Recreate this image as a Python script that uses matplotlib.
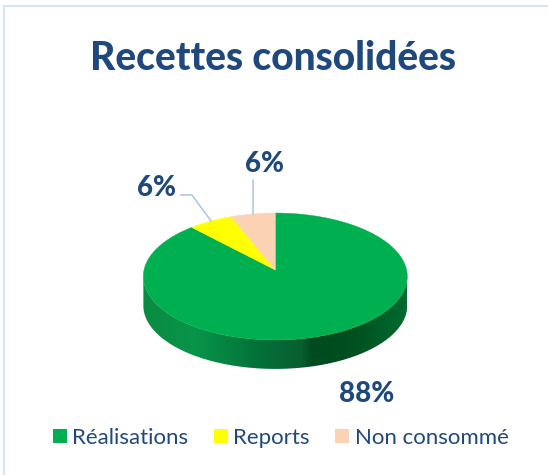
import numpy as np
import matplotlib
matplotlib.use("Agg")
import matplotlib.pyplot as plt
from matplotlib.colors import LinearSegmentedColormap
from matplotlib.patches import Patch, PathPatch
from matplotlib.path import Path

title = "Recettes consolidées"
categories = ["Réalisations", "Reports", "Non consommé"]
values = [88, 6, 6]
colors = ["#00B050", "#FFFF00", "#FBD2B4"]
navy = "#1F497D"
font = "Lato"

W, H = 548, 475
fig = plt.figure(figsize=(W / 100, H / 100), dpi=100, facecolor="white")
ax = fig.add_axes([0, 0, 1, 1])

# projected pie geometry
cx, cy = 275.3, 270.0
a, b, k = 131.3, 62.8, 0.102
depth = 29.0

def project(theta):
    """theta clockwise from 12 o'clock, on the pie's circle, seen in perspective."""
    X, Y = np.sin(theta), np.cos(theta)
    d = 1 + k * Y
    return cx + a * X / d, cy - b * Y / d

# side wall, with its shading
t = np.linspace(np.pi / 2 - 0.12, 3 * np.pi / 2 + 0.12, 300)
xf, yf = project(t)
i0, i1 = np.argmax(xf), np.argmin(xf)
xf, yf = xf[i0:i1 + 1], yf[i0:i1 + 1]
wall = np.vstack([np.c_[xf, yf], np.c_[xf, yf + depth][::-1]])
wall_patch = PathPatch(Path(np.vstack([wall, wall[0]])), fc="none", ec="none")
ax.add_patch(wall_patch)
shade = LinearSegmentedColormap.from_list("wall", [
    (0.00, "#0A8A42"), (0.20, "#08954A"), (0.42, "#03733A"),
    (0.60, "#0A5E30"), (0.64, "#004A20"), (0.80, "#00501F"), (1.00, "#006B30")])
img = ax.imshow(np.linspace(0, 1, 256)[None, :], cmap=shade, aspect="auto",
                extent=[xf.min(), xf.max(), yf.max() + depth, yf.min()], zorder=2)
img.set_clip_path(wall_patch)

# top face, wedges clockwise from 12 o'clock
edges = np.cumsum([0] + values) / sum(values) * 2 * np.pi
for v0, v1, c in zip(edges[:-1], edges[1:], colors):
    xa, ya = project(np.linspace(v0, v1, 240))
    ax.fill(np.r_[cx, xa], np.r_[cy, ya], color=c, lw=0.3, zorder=3)

# leader lines
leader = "#A9C5E8"
ax.plot([181, 192, 211], [195, 195, 221], color=leader, lw=1.1, zorder=4)
ax.plot([253, 253], [180, 214], color=leader, lw=1.1, zorder=4)

# labels
pct = [f"{round(v)}%" for v in values]
lab_pos = [(367, 402), (156, 196), (265, 172)]
for s, (x, y) in zip(pct, lab_pos):
    ax.text(x, y, s, color=navy, fontsize=20, fontweight="black", family=font,
            ha="center", va="baseline", zorder=5)

ax.text(273.5, 70, title, color=navy, fontsize=28, fontweight="black", family=font,
        ha="center", va="baseline")

# chart frame
frame = "#D6E4F5"
ax.plot([3.7, 3.7, 548], [475, 6, 6], color=frame, lw=1.6, solid_joinstyle="miter")

handles = [Patch(fc=c, ec="none") for c in colors]
ax.legend(handles, categories, loc="center", bbox_to_anchor=(280.5 / W, 1 - 438 / H),
          bbox_transform=ax.transAxes, ncol=3, frameon=False, labelcolor=navy,
          prop={"family": font, "size": 16}, handlelength=0.63, handleheight=0.63,
          handletextpad=0.23, columnspacing=1.17, borderpad=0, borderaxespad=0)

ax.set_xlim(0, W)
ax.set_ylim(H, 0)
ax.axis("off")
fig.savefig("out.png", dpi=100)
